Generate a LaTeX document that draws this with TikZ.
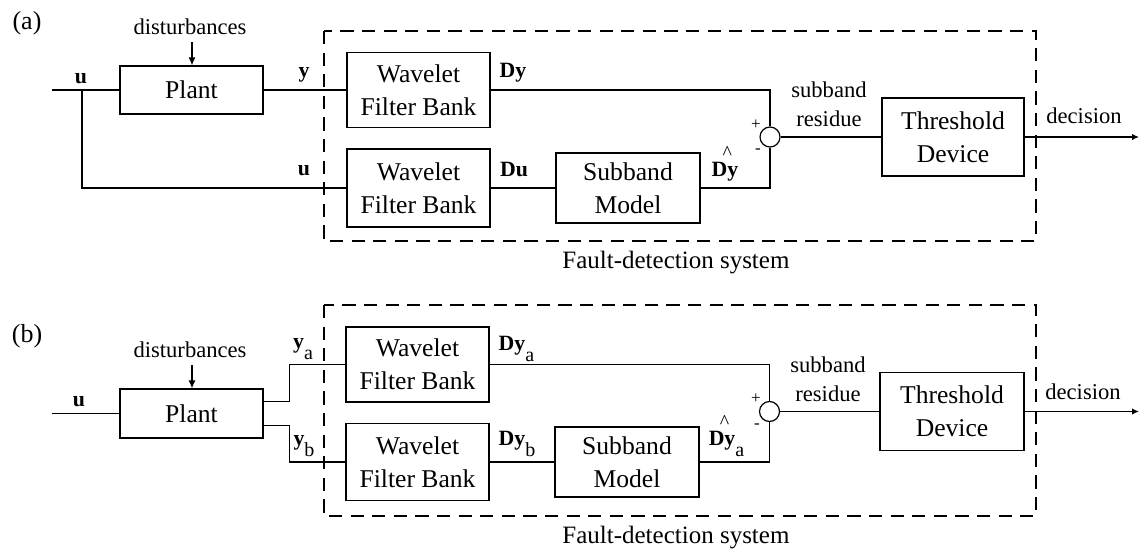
\documentclass[tikz,border=0pt]{standalone}
\usepackage{fontspec}
\setmainfont{Liberation Serif}
\usetikzlibrary{arrows.meta}
% lowered upright subscript used by the signal names
\newcommand\lowsub[1]{\raisebox{-5.5pt}{\mdseries\fontsize{10}{10}\selectfont #1}}
% estimated signal: caret set high over the D/y boundary
\newcommand\estDy{D\makebox[0pt]{\smash{\raisebox{8.4pt}{\mdseries\fontsize{10}{10}\selectfont\char"5E}}}y}
\begin{document}
\begin{tikzpicture}[x=0.5pt,y=-0.5pt,
  block/.style={draw, line width=0.6pt, inner sep=0pt, minimum width=71.5pt,
    align=center, font=\fontsize{12.8}{16.3}\selectfont},
  sumnode/.style={draw, circle, line width=0.6pt, inner sep=0pt, minimum size=10pt},
  sig/.style={line width=0.6pt},
  sigarrow/.style={line width=0.6pt, -{Latex[length=4pt,width=3.5pt]}},
  frame/.style={line width=1.4pt, dash pattern=on 6.6pt off 4.2pt},
  lbl/.style={inner sep=0pt, font=\fontsize{11.3}{14.3}\selectfont, align=center},
  bold/.style={inner sep=0pt, anchor=base, font=\fontsize{10.9}{12}\selectfont\bfseries},
  sign/.style={inner sep=0pt, font=\fontsize{8.5}{9}\selectfont},
  tag/.style={inner sep=0pt, font=\fontsize{13}{15}\selectfont},
  caption/.style={inner sep=0pt, anchor=west, font=\fontsize{12.5}{15}\selectfont}]
\useasboundingbox (0,0) rectangle (1139,552);

% ---------------- panel (a) ----------------
\node[tag] (taga) at (27,23.5) {(a)};
\draw[frame] (324,31) rectangle (1036,241);
\node[caption] (capa) at (562,263) {Fault-detection system};

\node[block, minimum height=24pt] (plantA) at (191.5,90) {Plant};
\node[block, minimum height=37.5pt] (wfbA1) at (418.5,90) {Wavelet\\Filter Bank};
\node[block, minimum height=39pt] (wfbA2) at (418.5,188) {Wavelet\\Filter Bank};
\node[block, minimum width=72pt, minimum height=35pt] (smA) at (628,188) {Subband\\Model};
\node[sumnode] (sumA) at (770,137) {};
\node[block, minimum width=71pt, minimum height=39pt] (thA) at (953,137) {Threshold\\Device};

\node[lbl] (distA) at (190,26.7) {disturbances};
\coordinate (dsrcA) at (192,42);
\draw[sigarrow] (dsrcA) -- (dsrcA |- plantA.north);

\coordinate (inA) at (52,90);
\coordinate (brA) at (82,90);
\coordinate (outA) at (1139,137);
\draw[sig] (inA) -- (plantA.west);
\draw[sig] (brA) |- (wfbA2.west);
\draw[sig] (plantA.east) -- (wfbA1.west);
\draw[sig] (wfbA1.east) -| (sumA.north);
\draw[sig] (wfbA2.east) -- (smA.west);
\draw[sig] (smA.east) -| (sumA.south);
\draw[sig] (sumA.east) -- (thA.west);
\draw[sig, -{Latex[length=3.5pt,width=3.2pt]}] (thA.east) -- (outA);

\node[bold] (uA1) at (81,83) {u};
\node[bold] (yA) at (304,77) {y};
\node[bold] (uA2) at (304,175) {u};
\node[bold] (DyA) at (513,77) {Dy};
\node[bold] (DuA) at (514,176) {Du};
\node[bold] (DyhA) at (725,176.5) {\estDy};
\node[sign] (plusA) at (756,125) {+};
\node[sign] (minusA) at (758,151) {-};
\node[lbl] (resA) at (829,104) {subband\\residue};
\node[lbl] (decA) at (1084,116) {decision};

% ---------------- panel (b) ----------------
\node[tag] (tagb) at (27,336) {(b)};
\draw[frame] (324,305) rectangle (1036,516);
\node[caption] (capb) at (562,538) {Fault-detection system};

\node[block, minimum height=24.5pt] (plantB) at (191.5,413.5) {Plant};
\node[block, minimum height=37.5pt] (wfbB1) at (417.5,364.5) {Wavelet\\Filter Bank};
\node[block, minimum height=38.5pt] (wfbB2) at (417.5,462) {Wavelet\\Filter Bank};
\node[block, minimum width=72pt, minimum height=35pt] (smB) at (627,462) {Subband\\Model};
\node[sumnode] (sumB) at (769.5,411.5) {};
\node[block, minimum width=72pt, minimum height=39pt] (thB) at (952,411.5) {Threshold\\Device};

\node[lbl] (distB) at (190,349.8) {disturbances};
\coordinate (dsrcB) at (192,365);
\draw[sigarrow] (dsrcB) -- (dsrcB |- plantB.north);

\coordinate (inB) at (52,413.5);
\coordinate (outB) at (1139,411.5);
\draw[sig] (inB) -- (plantB.west);
\draw[sig] ([yshift=5.85pt]plantB.east) -- ++(26,0) |- (wfbB1.west);
\draw[sig] ([yshift=-5.85pt]plantB.east) -- ++(26,0) |- (wfbB2.west);
\draw[sig] (wfbB1.east) -| (sumB.north);
\draw[sig] (wfbB2.east) -- (smB.west);
\draw[sig] (smB.east) -| (sumB.south);
\draw[sig] (sumB.east) -- (thB.west);
\draw[sig, -{Latex[length=3.5pt,width=3.2pt]}] (thB.east) -- (outB);

\node[bold] (uB) at (79,406) {u};
\node[bold] (yaB) at (303,348) {y\lowsub{a}};
\node[bold] (ybB) at (304,445) {y\lowsub{b}};
\node[bold] (DyaB) at (516.5,350) {Dy\lowsub{a}};
\node[bold] (DybB) at (517,445) {Dy\lowsub{b}};
\node[bold] (DyhB) at (726.5,445) {\estDy\lowsub{a}};
\node[sign] (plusB) at (756,399) {+};
\node[sign] (minusB) at (757,426) {-};
\node[lbl] (resB) at (828,379) {subband\\residue};
\node[lbl] (decB) at (1083,392) {decision};
\end{tikzpicture}
\end{document}
